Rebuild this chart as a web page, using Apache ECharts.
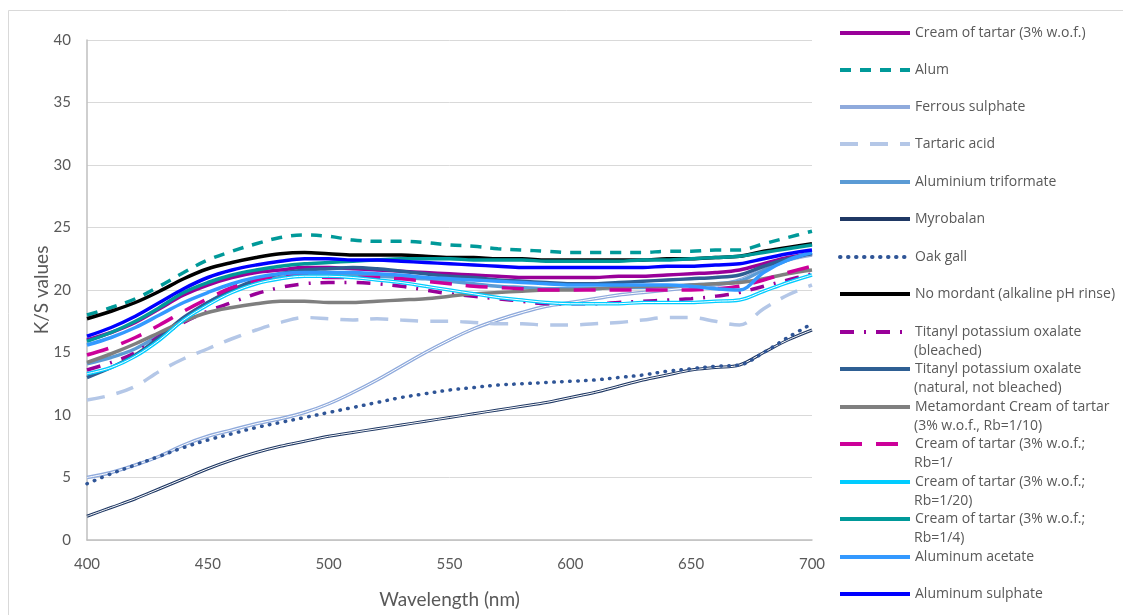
<!DOCTYPE html>
<html><head><meta charset="utf-8">
<script src="https://cdn.jsdelivr.net/npm/echarts@6/dist/echarts.min.js"></script>
<style>html,body{margin:0;padding:0;background:#fff}#c{width:1123px;height:615px}</style>
</head><body><div id="c"></div>
<script>
const wavelengths = [400,410,420,430,440,450,460,470,480,490,500,510,520,530,540,550,560,570,580,590,600,610,620,630,640,650,660,670,680,690,700];
const yTicks = [0,5,10,15,20,25,30,35,40];
const xTicks = [400,450,500,550,600,650,700];

const creamTartar = [16.0,16.6,17.4,18.5,19.6,20.4,21.0,21.4,21.6,21.8,21.8,21.7,21.6,21.5,21.4,21.3,21.2,21.1,21.0,21.0,21.0,21.0,21.1,21.1,21.2,21.3,21.4,21.6,22.1,22.6,22.9];
const alum = [18.0,18.6,19.3,20.3,21.4,22.4,23.1,23.7,24.2,24.4,24.3,24.0,23.9,23.9,23.8,23.6,23.5,23.3,23.2,23.1,23.0,23.0,23.0,23.0,23.1,23.1,23.2,23.2,23.7,24.2,24.7];
const ferrous = [5.0,5.4,6.0,6.7,7.6,8.3,8.8,9.3,9.7,10.2,10.9,11.8,12.8,13.9,15.0,16.0,16.9,17.6,18.2,18.7,19.0,19.3,19.6,19.8,20.0,20.2,20.4,20.8,21.7,22.4,22.8];
const tartaric = [11.2,11.6,12.3,13.5,14.5,15.3,16.1,16.8,17.4,17.8,17.7,17.6,17.7,17.6,17.5,17.5,17.4,17.3,17.3,17.2,17.2,17.3,17.4,17.6,17.8,17.8,17.5,17.2,18.5,19.6,20.4];
const triformate = [14.1,14.6,15.3,16.4,17.7,19.0,20.0,20.6,21.0,21.2,21.2,21.2,21.1,21.0,20.9,20.7,20.5,20.3,20.2,20.1,20.1,20.1,20.2,20.2,20.3,20.4,20.5,20.7,21.6,22.4,23.0];
const myrobalan = [1.9,2.6,3.3,4.1,4.9,5.7,6.4,7.0,7.5,7.9,8.3,8.6,8.9,9.2,9.5,9.8,10.1,10.4,10.7,11.0,11.4,11.8,12.3,12.8,13.2,13.6,13.8,14.0,15.0,16.0,16.8];
const oakGall = [4.5,5.3,6.0,6.7,7.4,8.0,8.5,9.0,9.4,9.8,10.2,10.6,11.0,11.4,11.7,12.0,12.2,12.4,12.5,12.6,12.7,12.8,13.0,13.2,13.5,13.7,13.9,14.0,15.0,16.2,17.3];
const noMordant = [17.7,18.3,19.0,19.9,20.9,21.7,22.2,22.6,22.9,23.0,22.9,22.8,22.8,22.8,22.7,22.6,22.6,22.5,22.5,22.4,22.4,22.4,22.4,22.4,22.5,22.5,22.6,22.7,23.1,23.4,23.7];
const titanylBleached = [13.6,14.2,15.0,16.3,17.4,18.3,19.0,19.7,20.2,20.5,20.6,20.6,20.5,20.3,20.0,19.7,19.5,19.3,19.1,18.9,18.9,18.9,19.0,19.1,19.2,19.3,19.5,19.8,20.3,20.8,21.3];
const titanylNatural = [13.0,13.8,14.8,16.2,17.8,19.0,20.0,20.8,21.3,21.6,21.7,21.8,21.7,21.5,21.3,21.1,21.0,20.8,20.7,20.6,20.5,20.5,20.6,20.7,20.8,20.9,21.0,21.2,21.9,22.5,22.9];
const metamordant = [14.2,14.9,15.7,16.6,17.5,18.2,18.6,18.9,19.1,19.1,19.0,19.0,19.1,19.2,19.3,19.5,19.7,19.8,19.9,20.0,20.0,20.1,20.2,20.3,20.3,20.4,20.5,20.6,20.9,21.3,21.6];
const creamRb1 = [14.8,15.4,16.2,17.2,18.3,19.3,20.2,20.8,21.1,21.1,21.0,21.0,21.0,20.9,20.7,20.5,20.3,20.2,20.1,20.0,20.0,20.0,20.0,20.0,20.0,20.0,20.1,20.3,20.8,21.4,21.9];
const creamRb20 = [13.3,13.8,14.7,16.0,17.6,18.8,19.8,20.5,20.9,21.1,21.1,21.0,20.8,20.6,20.3,20.0,19.7,19.4,19.2,19.0,18.9,18.9,18.9,19.0,19.0,19.0,19.1,19.2,19.9,20.6,21.2];
const creamRb4 = [15.9,16.6,17.5,18.6,19.8,20.6,21.2,21.6,21.9,22.1,22.2,22.3,22.4,22.5,22.5,22.5,22.4,22.4,22.4,22.3,22.3,22.3,22.3,22.4,22.4,22.5,22.6,22.7,23.0,23.3,23.6];
const alAcetate = [15.6,16.2,17.0,18.0,19.0,19.8,20.5,21.0,21.3,21.4,21.4,21.4,21.3,21.2,21.0,20.9,20.8,20.7,20.6,20.5,20.4,20.4,20.4,20.4,20.4,20.3,20.1,20.0,21.4,22.4,23.0];
const alSulphate = [16.3,17.0,17.9,19.0,20.1,21.0,21.6,22.0,22.3,22.5,22.5,22.4,22.4,22.3,22.2,22.1,22.0,21.9,21.8,21.8,21.8,21.8,21.8,21.8,21.9,21.9,22.0,22.1,22.5,22.9,23.2];

const names = [
 'Cream of tartar (3% w.o.f.)','Alum','Ferrous sulphate','Tartaric acid','Aluminium triformate','Myrobalan','Oak gall',
 'No mordant (alkaline pH rinse)','Titanyl potassium oxalate\n(bleached)','Titanyl potassium oxalate\n(natural, not bleached)',
 'Metamordant Cream of tartar\n(3% w.o.f., Rb=1/10)','Cream of tartar (3% w.o.f.;\nRb=1/','Cream of tartar (3% w.o.f.;\nRb=1/20)',
 'Cream of tartar (3% w.o.f.;\nRb=1/4)','Aluminum acetate','Aluminum sulphate'];
const values = [creamTartar,alum,ferrous,tartaric,triformate,myrobalan,oakGall,noMordant,titanylBleached,titanylNatural,metamordant,creamRb1,creamRb20,creamRb4,alAcetate,alSulphate];

const styles = [
 {color:'#990099',width:3.5},
 {color:'#009999',width:3.5,type:[11,9]},
 {color:'#8faadc',width:3.5,dbl:true},
 {color:'#b4c7e7',width:3.5,type:[18,12]},
 {color:'#5b9bd5',width:3.5},
 {color:'#1f3864',width:3,dbl:true},
 {color:'#2f5597',width:3.5,type:[0.5,7.5],cap:'round'},
 {color:'#000000',width:3.5},
 {color:'#990099',width:3.5,type:[14,10,2,10]},
 {color:'#2e5f93',width:3.5},
 {color:'#7f7f7f',width:3.5},
 {color:'#cc0099',width:3.5,type:[22,14]},
 {color:'#00ccff',width:3.5,dbl:true},
 {color:'#009999',width:3.5},
 {color:'#3399ff',width:3.5},
 {color:'#0000ff',width:3.5}
];

const series = [];
names.forEach((n,i)=>{
  const s = styles[i];
  const data = wavelengths.map((w,j)=>[w, values[i][j]]);
  series.push({name:n,type:'line',data,smooth:0.35,symbol:'none',showSymbol:false,
    lineStyle:{color:s.color,width:s.width,type:s.type||'solid',cap:s.cap||'butt'},itemStyle:{color:s.color}});
  if (s.dbl) {
    series.push({name:n,type:'line',data,smooth:0.35,symbol:'none',showSymbol:false,
      lineStyle:{color:'#ffffff',width:1},itemStyle:{color:'#ffffff'}});
  }
});

const legendY = [32,69,106,143,181,218,256,293,331,368,406,443,481,518,556,593];
const legendFont = {fontFamily:'Open Sans',fontSize:14,color:'#595959'};
const legends = names.map((n,i)=>({
  data:[n],left:838,top:legendY[i]-6,itemWidth:70,itemHeight:14,itemGap:0,padding:0,
  selectedMode:false,
  itemStyle:{opacity:0},
  lineStyle:{width:4},
  formatter:(name)=>name.split('\n')[0],
  textStyle:legendFont}));

const secondLines = [];
names.forEach((n,i)=>{
  const parts = n.split('\n');
  if (parts.length>1) secondLines.push({type:'text',left:914,top:legendY[i]+13,silent:true,
    style:{text:parts[1],font:'14px "Open Sans"',fill:'#595959'}});
});

const chart = echarts.init(document.getElementById('c'),null,{renderer:'canvas'});
chart.setOption({
  animation:false,
  backgroundColor:'#ffffff',
  graphic:[{type:'rect',shape:{x:8.5,y:10.5,width:1300,height:800},style:{fill:'none',stroke:'#d9d9d9',lineWidth:1},z:-1,silent:true}].concat(secondLines),
  legend:legends,
  grid:{left:87,right:311,top:40,bottom:75,containLabel:false},
  xAxis:{type:'value',min:400,max:700,interval:50,
    name:'Wavelength (nm)',nameLocation:'middle',nameGap:50,nameMoveOverlap:false,
    nameTextStyle:{fontFamily:'Lato',fontSize:19,color:'#595959'},
    axisLine:{show:true,lineStyle:{color:'#bfbfbf',width:1.5}},axisTick:{show:false},
    axisLabel:{fontFamily:'Lato',fontSize:15,color:'#595959',margin:17},splitLine:{show:false}},
  yAxis:{type:'value',min:0,max:40,interval:5,
    name:'K/S values',nameLocation:'middle',nameGap:36,nameMoveOverlap:false,
    nameTextStyle:{fontFamily:'Lato',fontSize:19,color:'#595959'},
    axisLine:{show:true,lineStyle:{color:'#bfbfbf',width:1.5}},axisTick:{show:false},
    axisLabel:{fontFamily:'Lato',fontSize:15,color:'#595959',margin:16},
    splitLine:{show:true,lineStyle:{color:'#d9d9d9',width:1}}},
  series
});
</script></body></html>
